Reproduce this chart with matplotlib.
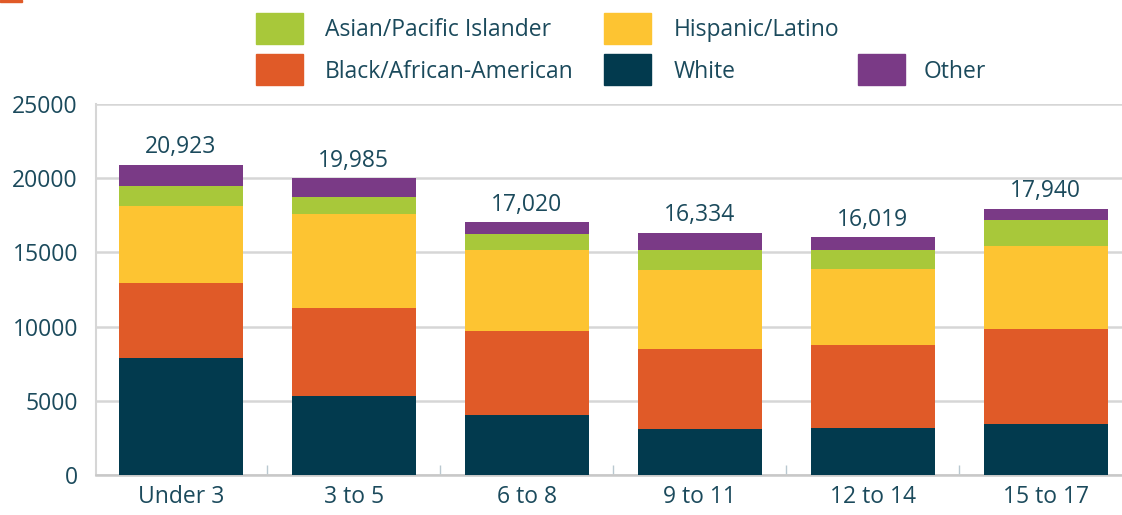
import matplotlib.pyplot as plt
from matplotlib.patches import Rectangle

plt.rcParams['font.family'] = ['Open Sans', 'DejaVu Sans']

categories = ['Under 3', '3 to 5', '6 to 8', '9 to 11', '12 to 14', '15 to 17']
totals = [20923, 19985, 17020, 16334, 16019, 17940]
white = [7873, 5316, 4038, 3096, 3163, 3432]
black = [5048, 5922, 5652, 5383, 5585, 6393]
hispanic = [5181, 6326, 5451, 5316, 5115, 5586]
asian = [1346, 1144, 1077, 1346, 1278, 1749]
other = [t - (w + b + h + a) for t, w, b, h, a in zip(totals, white, black, hispanic, asian)]

series = [('White', white, '#023a4e'),
          ('Black/African-American', black, '#e05a28'),
          ('Hispanic/Latino', hispanic, '#fdc432'),
          ('Asian/Pacific Islander', asian, '#a8c83a'),
          ('Other', other, '#7a3a86')]

text_color = '#1b4a5c'
grid_color = '#d6d6d6'
fs = 16.5

fig = plt.figure(figsize=(11.22, 5.15), dpi=100)
ax = fig.add_axes([0.0856, 0.078, 0.9144, 0.72])

x = list(range(len(categories)))
bottom = [0] * len(categories)
for name, vals, color in series:
    ax.bar(x, vals, width=0.72, bottom=bottom, color=color, zorder=3)
    bottom = [b + v for b, v in zip(bottom, vals)]

for xi, t in zip(x, totals):
    ax.annotate(f'{t:,}', (xi, t), xytext=(0, 4), textcoords='offset points',
                ha='center', va='bottom', fontsize=fs, color=text_color)

ax.set_xlim(-0.49, 5.44)
ax.set_ylim(0, 25000)
ax.set_yticks(range(0, 25001, 5000))
ax.yaxis.grid(True, color=grid_color, linewidth=1.8, zorder=0)
ax.set_axisbelow(True)

ax.set_xticks(x)
ax.set_xticklabels(categories)
ax.set_xticks([i + 0.5 for i in range(len(categories) - 1)], minor=True)
ax.tick_params(axis='x', which='major', length=0, pad=7, labelsize=fs, labelcolor=text_color)
ax.tick_params(axis='x', which='minor', length=7, direction='in', color='#b9c8d0', width=1)
ax.tick_params(axis='y', length=0, pad=13, labelsize=fs, labelcolor=text_color)

for side in ['top', 'right']:
    ax.spines[side].set_visible(False)
ax.spines['left'].set_color(grid_color)
ax.spines['left'].set_linewidth(1.5)
ax.spines['bottom'].set_color('#c8c8c8')
ax.spines['bottom'].set_linewidth(1.8)

# legend drawn by hand to match the two-row layout
W, H = 1122.0, 515.0
legend_items = [('Asian/Pacific Islander', '#a8c83a', 256, 13, 325),
                ('Hispanic/Latino', '#fdc432', 604, 13, 674),
                ('Black/African-American', '#e05a28', 256, 54, 325),
                ('White', '#023a4e', 604, 54, 674),
                ('Other', '#7a3a86', 858, 54, 924)]
for label, color, sx, sy, tx in legend_items:
    fig.add_artist(Rectangle((sx / W, 1 - (sy + 31) / H), 47 / W, 31 / H,
                             transform=fig.transFigure, color=color))
    fig.text(tx / W, 1 - (sy + 17.5) / H, label, fontsize=fs, color=text_color,
             va='center', ha='left')

fig.add_artist(Rectangle((0, 1 - 2 / H), 22 / W, 2 / H, transform=fig.transFigure, color='#e05a28'))

fig.savefig('out.png', dpi=100)
